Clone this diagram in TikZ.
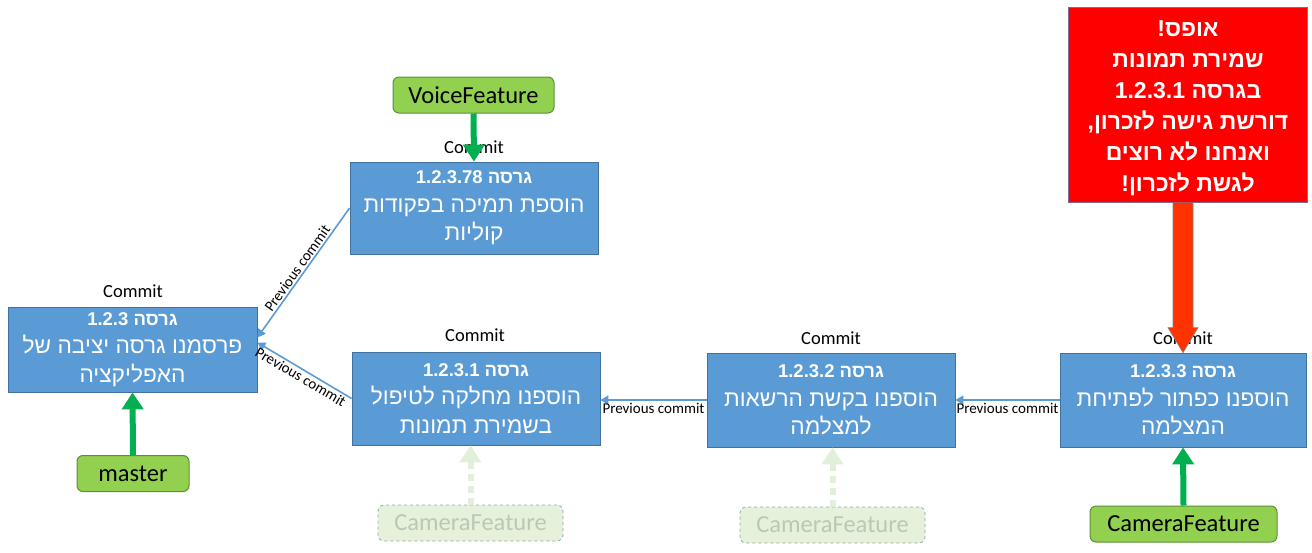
\documentclass[tikz,border=0pt]{standalone}
\usepackage{fontspec}
\setmainfont{Carlito}
\newfontfamily\hebfont[Script=Hebrew]{Liberation Sans}
\TeXXeTstate=1
\usetikzlibrary{arrows.meta}
\definecolor{boxblue}{HTML}{5B9BD5}
\definecolor{boxborder}{HTML}{41719C}
\definecolor{brgreen}{HTML}{92D050}
\definecolor{brborder}{HTML}{5E8F36}
\definecolor{arrgreen}{HTML}{00B050}
\definecolor{fadefill}{HTML}{E5F1DB}
\definecolor{fadeborder}{HTML}{8FA9A6}
\definecolor{fadetext}{HTML}{BCC8B6}
\definecolor{fadearrow}{HTML}{E2EFDA}
\definecolor{warnred}{HTML}{FF0000}
\definecolor{warnborder}{HTML}{7F6A98}
\definecolor{warnarrow}{HTML}{FF3300}
\definecolor{warnedge}{HTML}{8A7F86}
\newcommand\heb[1]{{\hebfont\beginR #1\endR}}
\newcommand\vtitle{\bfseries\fontsize{18.5}{20}\selectfont}
\tikzset{
  commit/.style={draw=boxborder, fill=boxblue, line width=0.8pt, text=white,
    minimum width=248pt, minimum height=93pt, align=center, inner sep=0pt,
    font=\hebfont\fontsize{22.7}{28.5}\selectfont},
  commitlabel/.style={font=\fontsize{18.5}{20}\selectfont, inner sep=0pt},
  branch/.style={draw=brborder, fill=brgreen, line width=1pt, rounded corners=6pt,
    minimum height=36pt, inner sep=0pt, font=\fontsize{24.5}{26}\selectfont},
  fadebranch/.style={draw=fadeborder, dashed, fill=fadefill, line width=0.8pt,
    rounded corners=6pt, minimum height=36pt, inner sep=0pt, text=fadetext,
    font=\fontsize{24.5}{26}\selectfont},
  warn/.style={draw=warnborder, fill=warnred, line width=1pt,
    minimum width=239pt, minimum height=195pt, inner sep=0pt},
  warntext/.style={text=white, align=center, inner sep=0pt,
    font=\hebfont\bfseries\fontsize{23}{30.9}\selectfont},
  prev/.style={draw=boxblue, line width=1.6pt, -{Triangle[length=8pt,width=9pt]}},
  prevlabel/.style={font=\fontsize{15}{16}\selectfont, inner sep=1.5pt, text=black},
  headarrow/.style={draw=arrgreen, line width=6pt, -{Triangle[length=17pt,width=21pt]}},
  fadearr/.style={draw=fadearrow, line width=6pt, dash pattern=on 7pt off 5pt,
    -{Triangle[length=17pt,width=21pt]}},
  warnfill/.style={fill=warnarrow},
  warnline/.style={draw=warnedge, line width=0.7pt, line join=miter},
}
\begin{document}
\begin{tikzpicture}[x=1pt,y=-1pt]
\useasboundingbox (0,0) rectangle (1312,552);
% commits
\node[commit, minimum width=249pt, minimum height=85pt] (A) at (132.5,349.5)
  {\heb{\vtitle גרסה \beginL 1.2.3\endL}\\ \heb{פרסמנו גרסה יציבה של}\\ \heb{האפליקציה}};
\node[commit, minimum height=92pt] (B) at (474,208)
  {\heb{\vtitle גרסה \beginL 1.2.3.78\endL}\\ \heb{הוספת תמיכה בפקודות}\\ \heb{קוליות}};
\node[commit] (C) at (476,398.5)
  {\heb{\vtitle גרסה \beginL 1.2.3.1\endL}\\ \heb{הוספנו מחלקה לטיפול}\\ \heb{בשמירת תמונות}};
\node[commit, minimum height=94pt] (D) at (831,400)
  {\heb{\vtitle גרסה \beginL 1.2.3.2\endL}\\ \heb{הוספנו בקשת הרשאות}\\ \heb{למצלמה}};
\node[commit, minimum width=246pt, minimum height=94pt] (E) at (1183,400)
  {\heb{\vtitle גרסה \beginL 1.2.3.3\endL}\\ \heb{הוספנו כפתור לפתיחת}\\ \heb{המצלמה}};
% commit labels
\node[commitlabel] (lA) at (133,291) {Commit};
\node[commitlabel] (lB) at (474,147) {Commit};
\node[commitlabel] (lC) at (475,335) {Commit};
\node[commitlabel] (lD) at (831,338) {Commit};
\node[commitlabel] (lE) at (1183,338) {Commit};
% branches
\node[branch, minimum width=112pt] (master) at (133,473.5) {master};
\node[branch, minimum width=161pt] (voice) at (473.5,95) {VoiceFeature};
\node[branch, minimum width=187pt] (camE) at (1183.5,524) {CameraFeature};
\node[fadebranch, minimum width=185pt] (camC) at (470.5,523) {CameraFeature};
\node[fadebranch, minimum width=185pt] (camD) at (832.5,525) {CameraFeature};
% warning
\node[warn] (W) at (1187.5,104.5) {};
\node[warntext] (Wt) at (1188,108)
  {\heb{אופס!}\\ \heb{שמירת תמונות}\\ \heb{בגרסה \beginL 1.2.3.1\endL}\\
   \heb{דורשת גישה לזכרון,}\\ \heb{ואנחנו לא רוצים}\\ \heb{לגשת לזכרון!}};
% previous-commit connectors
\draw[prev] (E.west) -- (E.west -| D.east)
  node[prevlabel, midway, below=1pt] {Previous commit};
\draw[prev] (D.west) -- (D.west -| C.east)
  node[prevlabel, midway, below=1pt] {Previous commit};
\draw[prev] (B.west) -- ([yshift=12pt]A.east)
  node[prevlabel, midway, sloped, above] {Previous commit};
\draw[prev] (C.west) -- ([yshift=7pt]A.east)
  node[prevlabel, midway, sloped, below] {Previous commit};
% branch pointers
\draw[headarrow] (master.north) -- (A.south);
\draw[headarrow] (voice.south) -- (B.north);
\draw[headarrow] (camE.north) -- (E.north |- E.south);
\draw[fadearr] (camC.north) -- (camC.north |- C.south);
\draw[fadearr] (camD.north) -- (camD.north |- D.south);
% warning arrow (block arrow)
\coordinate (wr) at (E.north |- W.south);
\fill[warnfill] ([xshift=-10pt]wr) -- ([xshift=10pt]wr)
  -- ([xshift=10pt,yshift=25pt]E.north) -- ([xshift=15pt,yshift=25pt]E.north)
  -- (E.north) -- ([xshift=-15pt,yshift=25pt]E.north)
  -- ([xshift=-10pt,yshift=25pt]E.north) -- cycle;
\draw[warnline] ([xshift=10pt,yshift=-0.5pt]wr)
  -- ([xshift=10pt,yshift=25pt]E.north) -- ([xshift=15pt,yshift=25pt]E.north)
  -- (E.north) -- ([xshift=-15pt,yshift=25pt]E.north)
  -- ([xshift=-10pt,yshift=25pt]E.north) -- ([xshift=-10pt,yshift=-0.5pt]wr);
\end{tikzpicture}
\end{document}
